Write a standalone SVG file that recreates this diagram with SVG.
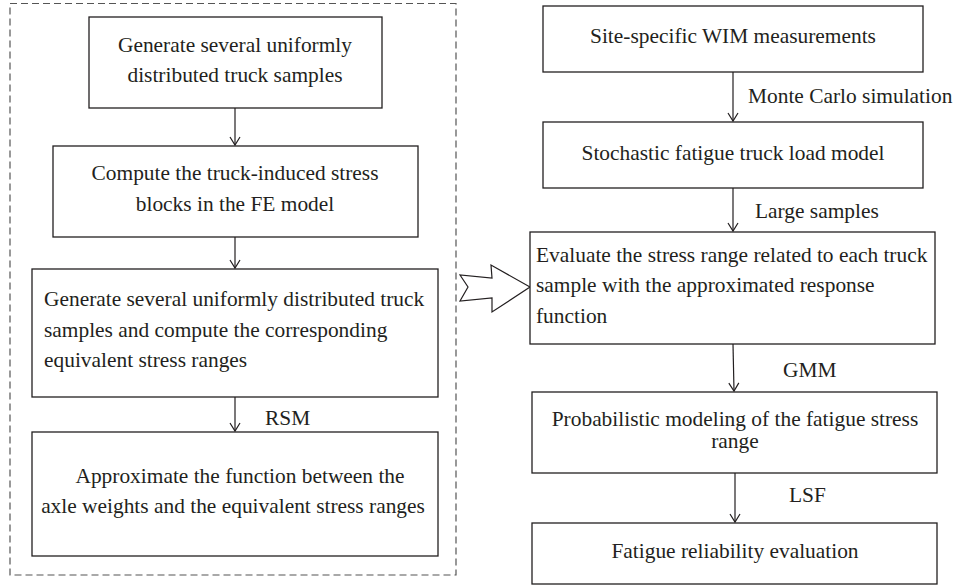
<svg xmlns="http://www.w3.org/2000/svg" width="958" height="586" viewBox="0 0 958 586">
<defs>
<style>
.box{fill:#fff;stroke:#231f20;stroke-width:1.3}
.t{font-family:"Liberation Serif","Times New Roman",serif;font-size:21.4px;fill:#231f20}
.m{text-anchor:middle}
.c{stroke:#231f20;stroke-width:1.2;fill:none}
</style>
<marker id="ah" viewBox="0 0 12 12" refX="10" refY="6" markerWidth="12" markerHeight="12" markerUnits="userSpaceOnUse" orient="auto">
<polyline points="2,1 10,6 2,11" fill="none" stroke="#231f20" stroke-width="1.2"/>
</marker>
</defs>
<rect width="958" height="586" fill="#fff"/>
<rect id="frame" x="10" y="3.5" width="446" height="571.5" fill="none" stroke="#555" stroke-width="1.2" stroke-dasharray="7,4"/>
<g id="connectors">
<line class="c" x1="235" y1="108" x2="235" y2="145" marker-end="url(#ah)"/>
<line class="c" x1="235" y1="237" x2="235" y2="268" marker-end="url(#ah)"/>
<line class="c" x1="235" y1="397" x2="235" y2="431" marker-end="url(#ah)"/>
<text class="t" x="265" y="425">RSM</text>
<line class="c" x1="733" y1="72" x2="733" y2="121" marker-end="url(#ah)"/>
<text class="t" x="748" y="103">Monte Carlo simulation</text>
<line class="c" x1="733" y1="188" x2="733" y2="231" marker-end="url(#ah)"/>
<text class="t" x="755" y="218">Large samples</text>
<line class="c" x1="733" y1="344" x2="734" y2="391" marker-end="url(#ah)"/>
<text class="t" x="783" y="377">GMM</text>
<line class="c" x1="735" y1="473" x2="735" y2="522" marker-end="url(#ah)"/>
<text class="t" x="789" y="502">LSF</text>
<polygon points="460,275 468,287 460,301 492,298 492,312 530,287 491,265 492,278" fill="#fff" stroke="#231f20" stroke-width="1.2" stroke-linejoin="miter"/>
</g>
<g id="n1">
<rect class="box" x="89" y="17" width="293" height="91"/>
<text class="t m" x="235" y="52">Generate several uniformly</text>
<text class="t m" x="235" y="82">distributed truck samples</text>
</g>
<g id="n2">
<rect class="box" x="53" y="146" width="365" height="91"/>
<text class="t m" x="235" y="180">Compute the truck-induced stress</text>
<text class="t m" x="235" y="211">blocks in the FE model</text>
</g>
<g id="n3">
<rect class="box" x="32" y="269" width="406" height="128"/>
<text class="t" x="44" y="306">Generate several uniformly distributed truck</text>
<text class="t" x="44" y="337">samples and compute the corresponding</text>
<text class="t" x="44" y="367">equivalent stress ranges</text>
</g>
<g id="n4">
<rect class="box" x="32" y="432" width="406" height="124"/>
<text class="t m" x="240" y="483">Approximate the function between the</text>
<text class="t m" x="233" y="513">axle weights and the equivalent stress ranges</text>
</g>
<g id="r1">
<rect class="box" x="543" y="6" width="380" height="66"/>
<text class="t m" x="733" y="43">Site-specific WIM measurements</text>
</g>
<g id="r2">
<rect class="box" x="543" y="122" width="380" height="66"/>
<text class="t m" x="733" y="160">Stochastic fatigue truck load model</text>
</g>
<g id="r3">
<rect class="box" x="530" y="232" width="405" height="112"/>
<text class="t" x="536" y="262">Evaluate the stress range related to each truck</text>
<text class="t" x="536" y="292">sample with the approximated response</text>
<text class="t" x="536" y="323">function</text>
</g>
<g id="r4">
<rect class="box" x="532" y="392" width="405" height="81"/>
<text class="t m" x="735" y="426">Probabilistic modeling of the fatigue stress</text>
<text class="t m" x="735" y="448">range</text>
</g>
<g id="r5">
<rect class="box" x="532" y="523" width="405" height="61"/>
<text class="t m" x="735" y="558">Fatigue reliability evaluation</text>
</g>
</svg>
